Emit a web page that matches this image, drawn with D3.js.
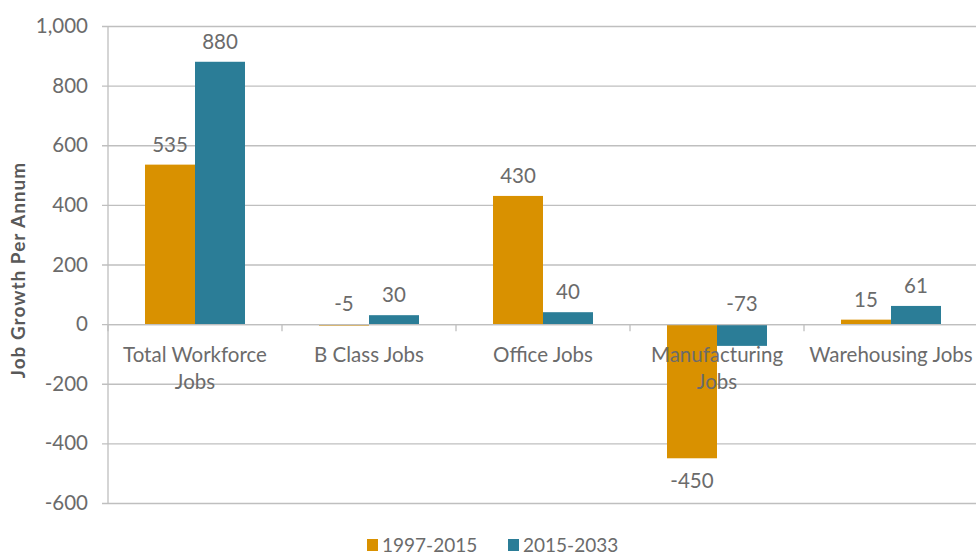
<!DOCTYPE html>
<html><head><meta charset="utf-8">
<script src="https://cdn.jsdelivr.net/npm/d3@7/dist/d3.min.js"></script>
<style>
body{margin:0;background:#fff;}
svg{display:block;font-family:Lato, "Open Sans", sans-serif;}
</style></head>
<body><svg id="c" width="976" height="556"></svg>
<script>
const categories = [["Total Workforce","Jobs"],["B Class Jobs"],["Office Jobs"],["Manufacturing","Jobs"],["Warehousing Jobs"]];
const seriesNames = ["1997-2015","2015-2033"];
const series1 = [535,-5,430,-450,15];
const series2 = [880,30,40,-73,61];
const yTicks = [-600,-400,-200,0,200,400,600,800,1000];
const colors = ["#D99100","#2B7D97"];

const svg = d3.select("#c");
const pL = 108, pR = 978, pT = 26, pB = 503;
const y = d3.scaleLinear().domain([-600,1000]).range([pB, pT]);
const x0 = d3.scaleBand().domain(d3.range(categories.length)).range([pL,pR]).paddingInner(0).paddingOuter(0);
const x1 = d3.scaleBand().domain([0,1]).range([0,x0.bandwidth()]).paddingOuter(0.74).paddingInner(0);

const textCol = "#6b6b6b";
const gridCol = "#BFBFBF";
const fs = "20.5px";
const fmt = v => d3.format(",")(v).replace("\u2212","-");

// gridlines with left ticks
const yAxis = d3.axisLeft(y).tickValues(yTicks).tickSize(-(pR-pL)).tickPadding(20).tickFormat(fmt);
const gy = svg.append("g").attr("transform",`translate(${pL},0)`).call(yAxis);
gy.select(".domain").remove();
gy.selectAll(".tick line").attr("stroke",gridCol).attr("stroke-width",1.3).attr("x1",-6);
gy.selectAll(".tick text").attr("fill",textCol).style("font-size",fs).style("font-family","Lato, sans-serif");
svg.append("line").attr("x1",pL).attr("x2",pL).attr("y1",pT).attr("y2",pB)
  .attr("stroke",gridCol).attr("stroke-width",1.3);

// bars
const data = categories.map((c,i)=>({i, vals:[series1[i],series2[i]]}));
const g = svg.append("g");
data.forEach(d=>{
  d.vals.forEach((v,s)=>{
    const xb = x0(d.i)+x1(s);
    g.append("rect").attr("x",xb).attr("width",x1.bandwidth())
      .attr("y",y(Math.max(0,v))).attr("height",Math.abs(y(v)-y(0)))
      .attr("fill",colors[s]);
    let ty;
    if (v < -100) ty = y(v)+30; else ty = y(Math.max(0,v))-13;
    g.append("text").attr("x",xb+x1.bandwidth()/2).attr("y",ty).attr("text-anchor","middle")
      .attr("fill",textCol).style("font-size",fs).text(fmt(v));
  });
});

// x axis at zero
const xAxis = d3.axisBottom(x0).tickSize(0).tickFormat("");
const gx = svg.append("g").attr("transform",`translate(0,${y(0)})`).call(xAxis);
gx.select(".domain").attr("stroke",gridCol).attr("stroke-width",1.3);
d3.range(categories.length+1).forEach(k=>{
  const xx = pL + k*x0.bandwidth();
  svg.append("line").attr("x1",xx).attr("x2",xx).attr("y1",y(0)).attr("y2",y(0)+7)
    .attr("stroke",gridCol).attr("stroke-width",1.3);
});
categories.forEach((c,i)=>{
  const t = svg.append("text").attr("x",x0(i)+x0.bandwidth()/2).attr("y",y(0)+38)
    .attr("text-anchor","middle").attr("fill",textCol).style("font-size",fs);
  c.forEach((line,j)=>t.append("tspan").attr("x",x0(i)+x0.bandwidth()/2).attr("dy",j?27:0).text(line));
});

// y title
svg.append("text").attr("transform",`translate(25,270) rotate(-90)`)
  .attr("text-anchor","middle").attr("fill","#595959").style("font-size","19px").style("font-weight","bold")
  .style("letter-spacing","1px")
  .text("Job Growth Per Annum");

// legend
const legend = svg.append("g");
const lx = [367,508];
seriesNames.forEach((n,s)=>{
  legend.append("rect").attr("x",lx[s]).attr("y",539).attr("width",11).attr("height",12).attr("fill",colors[s]);
  legend.append("text").attr("x",lx[s]+15).attr("y",552).attr("fill",textCol).style("font-size","19px").text(n);
});
</script></body></html>
